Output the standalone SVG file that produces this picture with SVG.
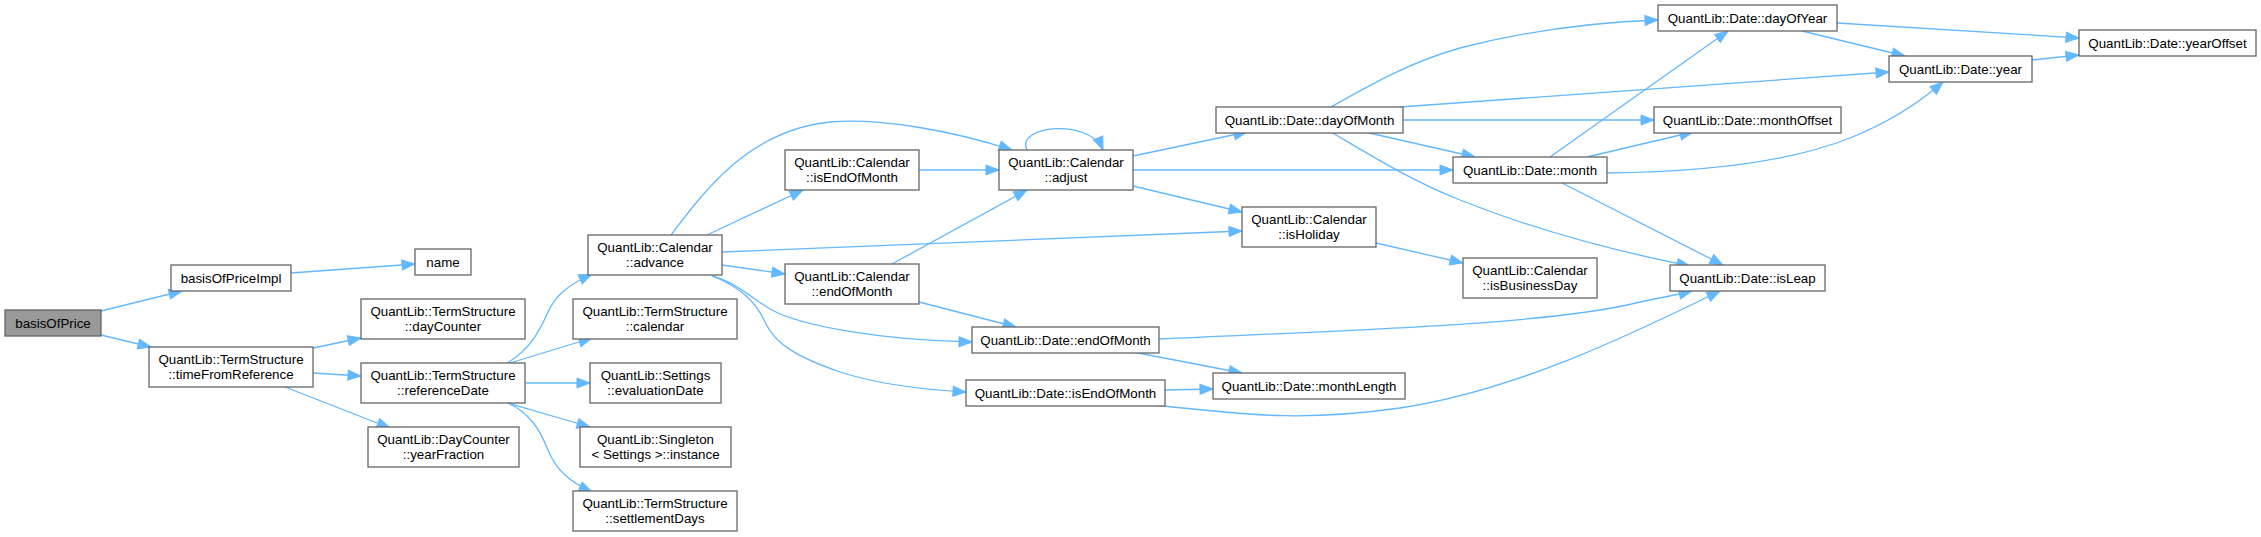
<svg xmlns="http://www.w3.org/2000/svg" width="2261" height="537" viewBox="0 0 2261 537">
<style>
.n rect{fill:#ffffff;stroke:#666666;stroke-width:1.3}
.n.root rect{fill:#999999}
.n text{font-family:"Liberation Sans",Arial,Helvetica,sans-serif;font-size:13.33px;fill:#000000;text-anchor:middle}
.e path{fill:none;stroke:#63b8ff;stroke-width:1.3;marker-end:url(#ah)}
</style>
<defs>
<marker id="ah" markerUnits="userSpaceOnUse" markerWidth="15" markerHeight="12" refX="13" refY="5" orient="auto" viewBox="-1 -1 15 12">
<path d="M0,0 L13,5 L0,10 z" fill="#63b8ff" stroke="#63b8ff" stroke-width="1"/>
</marker>
</defs>
<rect width="2261" height="537" fill="#ffffff"/>
<g id="edges" class="e">
<path d="M101,311 L182,291"/>
<path d="M101,335 L151,347"/>
<path d="M291,273 L415,264"/>
<path d="M313,348 L361,338"/>
<path d="M313,373 L361,376"/>
<path d="M285,387 L390,428"/>
<path d="M507,363 C530,350 540,330 548,312 C556,295 568,285 592,274"/>
<path d="M510,363 L592,338"/>
<path d="M526,383 L590,383"/>
<path d="M508,403 L590,427"/>
<path d="M508,403 C530,413 540,430 548,450 C556,470 570,482 592,492"/>
<path d="M671,235 C705,190 750,130 830,122 C880,118 950,130 1012,150"/>
<path d="M707,235 L803,190"/>
<path d="M722,252 L1242,231"/>
<path d="M722,265 L785,274"/>
<path d="M712,276 C735,282 752,298 770,309 C800,326 880,340 972,342"/>
<path d="M713,276 C740,288 755,300 765,322 C775,345 800,358 840,372 C880,385 930,390 966,392"/>
<path d="M919,170 L999,170"/>
<path d="M892,264 L1027,190"/>
<path d="M919,302 L1016,327"/>
<path d="M1027,150 C1015,125 1090,118 1103,150"/>
<path d="M1133,156 L1247,132"/>
<path d="M1133,170 L1453,170"/>
<path d="M1133,186 L1242,212"/>
<path d="M1376,243 L1463,263"/>
<path d="M1159,339 C1350,330 1550,325 1640,302 C1660,298 1680,294 1692,291"/>
<path d="M1133,352 L1242,373"/>
<path d="M1165,390 L1213,389"/>
<path d="M1153,405 C1250,415 1300,422 1400,408 C1520,390 1640,330 1720,291"/>
<path d="M1331,107 C1370,85 1410,62 1460,48 C1530,30 1600,22 1658,20"/>
<path d="M1400,107 L1889,72"/>
<path d="M1403,120 L1654,120"/>
<path d="M1365,132 L1475,157"/>
<path d="M1331,132 C1370,155 1410,180 1460,200 C1540,232 1620,252 1690,266"/>
<path d="M1550,157 L1728,31"/>
<path d="M1587,157 L1693,132"/>
<path d="M1607,173 C1700,172 1790,162 1850,138 C1890,122 1920,102 1943,82"/>
<path d="M1562,183 L1723,265"/>
<path d="M1837,23 L2079,38"/>
<path d="M1802,31 L1905,56"/>
<path d="M2032,60 L2079,55"/>
</g>
<g id="basisOfPrice" class="n root"><rect x="5" y="310" width="96" height="26"/><text x="53" y="327.5">basisOfPrice</text></g>
<g id="basisOfPriceImpl" class="n"><rect x="171" y="265" width="120" height="26"/><text x="231" y="282.5">basisOfPriceImpl</text></g>
<g id="name" class="n"><rect x="415" y="249" width="56" height="26"/><text x="443" y="266.5">name</text></g>
<g id="timeFromReference" class="n"><rect x="149" y="347" width="164" height="40"/><text x="231" y="364">QuantLib::TermStructure</text><text x="231" y="379">::timeFromReference</text></g>
<g id="dayCounter" class="n"><rect x="361" y="299" width="164" height="40"/><text x="443" y="316">QuantLib::TermStructure</text><text x="443" y="331">::dayCounter</text></g>
<g id="referenceDate" class="n"><rect x="361" y="363" width="164" height="40"/><text x="443" y="380">QuantLib::TermStructure</text><text x="443" y="395">::referenceDate</text></g>
<g id="yearFraction" class="n"><rect x="368" y="427" width="151" height="40"/><text x="443.5" y="444">QuantLib::DayCounter</text><text x="443.5" y="459">::yearFraction</text></g>
<g id="advance" class="n"><rect x="588" y="235" width="134" height="40"/><text x="655" y="252">QuantLib::Calendar</text><text x="655" y="267">::advance</text></g>
<g id="calendar" class="n"><rect x="573" y="299" width="164" height="40"/><text x="655" y="316">QuantLib::TermStructure</text><text x="655" y="331">::calendar</text></g>
<g id="evaluationDate" class="n"><rect x="590" y="363" width="131" height="40"/><text x="655.5" y="380">QuantLib::Settings</text><text x="655.5" y="395">::evaluationDate</text></g>
<g id="instance" class="n"><rect x="580" y="427" width="151" height="40"/><text x="655.5" y="444">QuantLib::Singleton</text><text x="655.5" y="459">&lt; Settings &gt;::instance</text></g>
<g id="settlementDays" class="n"><rect x="573" y="491" width="164" height="40"/><text x="655" y="508">QuantLib::TermStructure</text><text x="655" y="523">::settlementDays</text></g>
<g id="calIsEndOfMonth" class="n"><rect x="785" y="150" width="134" height="40"/><text x="852" y="167">QuantLib::Calendar</text><text x="852" y="182">::isEndOfMonth</text></g>
<g id="calEndOfMonth" class="n"><rect x="785" y="264" width="134" height="40"/><text x="852" y="281">QuantLib::Calendar</text><text x="852" y="296">::endOfMonth</text></g>
<g id="adjust" class="n"><rect x="999" y="150" width="134" height="40"/><text x="1066" y="167">QuantLib::Calendar</text><text x="1066" y="182">::adjust</text></g>
<g id="dateEndOfMonth" class="n"><rect x="972" y="327" width="187" height="26"/><text x="1065.5" y="344.5">QuantLib::Date::endOfMonth</text></g>
<g id="dateIsEndOfMonth" class="n"><rect x="966" y="380" width="199" height="26"/><text x="1065.5" y="397.5">QuantLib::Date::isEndOfMonth</text></g>
<g id="isHoliday" class="n"><rect x="1242" y="207" width="134" height="40"/><text x="1309" y="224">QuantLib::Calendar</text><text x="1309" y="239">::isHoliday</text></g>
<g id="monthLength" class="n"><rect x="1213" y="373" width="192" height="26"/><text x="1309" y="390.5">QuantLib::Date::monthLength</text></g>
<g id="dayOfMonth" class="n"><rect x="1216" y="107" width="187" height="26"/><text x="1309.5" y="124.5">QuantLib::Date::dayOfMonth</text></g>
<g id="isBusinessDay" class="n"><rect x="1463" y="258" width="134" height="40"/><text x="1530" y="275">QuantLib::Calendar</text><text x="1530" y="290">::isBusinessDay</text></g>
<g id="month" class="n"><rect x="1453" y="157" width="154" height="26"/><text x="1530" y="174.5">QuantLib::Date::month</text></g>
<g id="dayOfYear" class="n"><rect x="1658" y="5" width="179" height="26"/><text x="1747.5" y="22.5">QuantLib::Date::dayOfYear</text></g>
<g id="monthOffset" class="n"><rect x="1654" y="107" width="187" height="26"/><text x="1747.5" y="124.5">QuantLib::Date::monthOffset</text></g>
<g id="isLeap" class="n"><rect x="1670" y="265" width="155" height="26"/><text x="1747.5" y="282.5">QuantLib::Date::isLeap</text></g>
<g id="year" class="n"><rect x="1889" y="56" width="143" height="26"/><text x="1960.5" y="73.5">QuantLib::Date::year</text></g>
<g id="yearOffset" class="n"><rect x="2079" y="30" width="177" height="26"/><text x="2167.5" y="47.5">QuantLib::Date::yearOffset</text></g>
</svg>
